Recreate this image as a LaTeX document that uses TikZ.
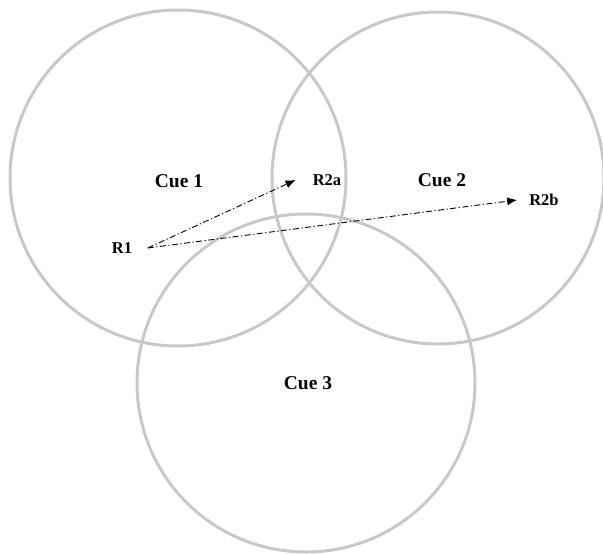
\documentclass[tikz,border=0pt]{standalone}
\usepackage{fontspec}
\setmainfont{Liberation Serif}
\usetikzlibrary{arrows.meta,positioning}
\definecolor{cuegray}{RGB}{200,200,200}
\tikzset{
cue/.style={draw=cuegray,line width=3pt},
cuelab/.style={font=\bfseries\fontsize{19.5}{23}\selectfont},
rlab/.style={font=\bfseries\fontsize{16.5}{20}\selectfont,inner ysep=1pt},
arc/.style={-{Latex[length=10pt,width=8pt]},line width=0.9pt,dash pattern=on 6pt off 2.5pt on 1.2pt off 2.5pt}
}

\begin{document}
\begin{tikzpicture}[x=1pt,y=-1pt]
	\useasboundingbox (0,0) rectangle (603,554);
	
	\coordinate (c1) at (178,178);
	\coordinate (c2) at (438,178);
	\coordinate (c3) at (306,383);
	
	%the three cue circles
	\draw[cue] (c1) circle[radius=168];
	\draw[cue] (c2) circle[radius=166];
	\draw[cue] (c3) circle[radius=169];
	
	\node[cuelab] (cue1) at (179,181) {Cue 1};
	\node[cuelab] (cue2) at (442,180) {Cue 2};
	\node[cuelab] (cue3) at (308,383) {Cue 3};
	
	%responses
	\node[rlab,inner xsep=15.5pt] (R1) at (122,248) {R1};
	\node[rlab,inner xsep=17pt] (R2a) at (327,180) {R2a};
	\node[rlab,inner xsep=12pt] (R2b) at (544,200) {R2b};
	
	\draw[arc] (R1.east) -- (R2a.west);
	\draw[arc] (R1.east) -- (R2b.west);
	
\end{tikzpicture}
\end{document}
